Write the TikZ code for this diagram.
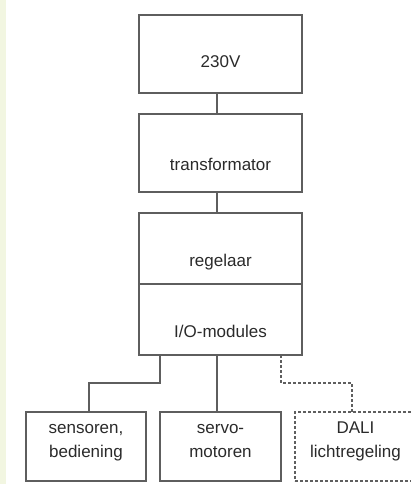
\documentclass[tikz,border=0pt]{standalone}
\usepackage{fontspec}
\setmainfont{Liberation Sans}
\definecolor{stripgreen}{HTML}{F2F6E1}
\definecolor{linegray}{HTML}{5E5E5E}
\definecolor{txtgray}{HTML}{2A2A2A}
\begin{document}
\begin{tikzpicture}[x=1pt,y=-1pt,
  box/.style={draw=linegray,line width=1.2pt,rectangle,inner sep=0pt,outer sep=0pt},
  dbox/.style={box,dash pattern=on 3pt off 2pt},
  conn/.style={draw=linegray,line width=1.2pt},
  dconn/.style={conn,dash pattern=on 3pt off 2pt},
  lbl/.style={text=txtgray,font=\fontsize{17}{24}\selectfont,align=center,inner sep=0pt,anchor=base}]
\useasboundingbox (0,0) rectangle (411,484);
\clip (0,0) rectangle (411,484);
\fill[stripgreen] (0,0) rectangle (6,484);
% boxes
\node[box,minimum width=163pt,minimum height=78pt] (b1) at (220.5,54) {};
\node[box,minimum width=163pt,minimum height=78pt] (b2) at (220.5,153) {};
\node[box,minimum width=163pt,minimum height=142pt] (b3) at (220.5,284) {};
\node[box,minimum width=120pt,minimum height=69pt] (bA) at (86,446.5) {};
\node[box,minimum width=121pt,minimum height=69pt] (bB) at (220.5,446.5) {};
\node[dbox,minimum width=121pt,minimum height=69pt] (bC) at (355.5,446.5) {};
\draw[conn] (b3.west) -- (b3.east);
% labels
\node[lbl] (t1) at (220.5,67.7) {230V};
\node[lbl] (t2) at (220.5,170.7) {transformator};
\node[lbl] (t3) at (220.5,266) {regelaar};
\node[lbl] (t4) at (220.5,337.7) {I/O-modules};
\node[lbl] (tA) at (86,457) {sensoren,\\bediening};
\node[lbl] (tB) at (220.5,457) {servo-\\motoren};
\node[lbl] (tC) at (355.5,457) {DALI\\lichtregeling};
% connectors
\draw[conn] ([xshift=-3.5pt]b1.south) -- ([xshift=-3.5pt]b2.north);
\draw[conn] ([xshift=-3.5pt]b2.south) -- ([xshift=-3.5pt]b3.north);
\coordinate (a1) at (160,383);
\draw[conn] (b3.south -| a1) -- (a1) -| ([xshift=3pt]bA.north);
\draw[conn] ([xshift=-3.5pt]b3.south) -- ([xshift=-3.5pt]bB.north);
\coordinate (c1) at (281,383);
\draw[dconn] (b3.south -| c1) -- (c1) -| ([xshift=-3.5pt]bC.north);
\end{tikzpicture}
\end{document}
